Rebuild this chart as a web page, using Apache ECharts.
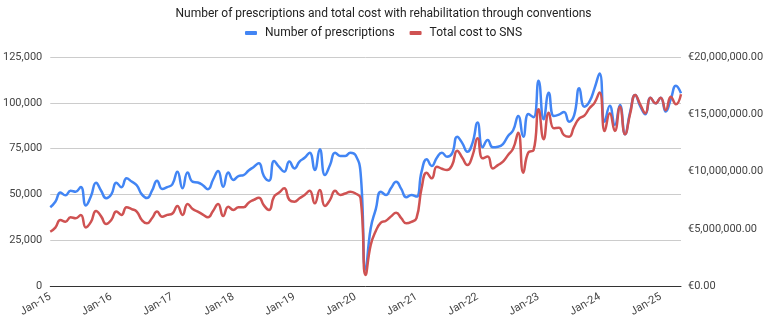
<!DOCTYPE html>
<html>
<head>
<meta charset="utf-8">
<script src="https://cdn.jsdelivr.net/npm/echarts@6/dist/echarts.min.js"></script>
<style>
  html, body { margin: 0; padding: 0; background: #fff; }
  #main { width: 767px; height: 320px; }
</style>
</head>
<body>
<div id="main"></div>
<script>
var startYear = 2015;
var monthCount = 125;
var monthNames = ['Jan', 'Feb', 'Mar', 'Apr', 'May', 'Jun', 'Jul', 'Aug', 'Sep', 'Oct', 'Nov', 'Dec'];

// number of prescriptions, in thousands
var prescriptions = [
  43, 46, 51, 49.5, 52, 51.5, 54, 44, 49, 56.4, 52, 47.9,
  50, 56.4, 53.9, 58.8, 57, 55, 50, 48, 52, 57.5, 53, 54,
  55.5, 62.4, 53.3, 61.9, 56.9, 56.5, 55, 52.8, 58, 62.8, 54.2, 61.9,
  57.9, 60, 60.5, 63, 65, 67, 60, 57.5, 68.2, 65, 62.4, 67.9,
  64.2, 67.9, 70, 72.8, 63.3, 74.6, 60.6, 66, 72.8, 71, 71, 72.8,
  71.5, 62, 9, 31.5, 42, 51.5, 49.7, 53.5, 56.9, 53, 48.4, 49.7,
  48.8, 62.4, 69.2, 65.5, 70, 72.8, 70.6, 72.4, 81.5, 78, 73.3, 78,
  89.2, 75.7, 79.7, 75.7, 76, 77.5, 81.9, 85, 92.8, 81.5, 93.9, 92.1,
  112, 91, 105.5, 92.8, 93.5, 95, 89.7, 93.3, 107.9, 97.9, 100.6, 107.9,
  116, 89.7, 98.4, 87.9, 98.8, 82.8, 95, 104.3, 98, 93.7, 102.8, 99.7,
  102.8, 95.2, 102, 109.3, 105.2
];

// total cost to SNS, in millions of euros
var totalCost = [
  4.74, 5.10, 5.76, 5.62, 6.00, 5.92, 6.21, 5.12, 5.60, 6.56, 6.08, 5.41,
  5.76, 6.50, 6.21, 6.88, 6.72, 6.50, 5.76, 5.47, 5.92, 6.50, 6.05, 6.21,
  6.32, 6.99, 6.21, 7.17, 6.72, 6.50, 6.24, 6.00, 6.56, 7.17, 6.11, 6.93,
  6.64, 6.88, 6.88, 7.28, 7.52, 7.71, 7.04, 6.64, 7.81, 8.16, 8.53, 7.52,
  7.36, 7.66, 7.95, 8.32, 7.22, 8.38, 6.99, 7.52, 8.32, 7.95, 8.08, 8.24,
  8.08, 7.68, 0.96, 3.58, 4.80, 5.54, 5.70, 6.08, 6.40, 5.92, 5.47, 5.60,
  5.92, 8.53, 9.90, 9.41, 10.42, 10.24, 10.13, 10.56, 11.82, 11.20, 10.56, 11.36,
  12.90, 11.15, 11.30, 10.27, 10.56, 10.86, 11.44, 12.00, 13.39, 9.90, 11.68, 11.84,
  15.44, 12.82, 15.14, 13.78, 13.82, 13.18, 13.04, 13.92, 14.64, 14.88, 15.52, 16.00,
  16.91, 13.54, 15.09, 13.54, 15.66, 13.25, 15.04, 16.69, 15.84, 15.09, 16.45, 15.95,
  16.45, 15.36, 16.53, 15.87, 16.75
];

var months = [];
for (var i = 0; i < monthCount; i++) {
  var y = startYear + Math.floor(i / 12);
  months.push(monthNames[i % 12] + '-' + String(y).slice(2));
}

var myChart = echarts.init(document.getElementById('main'));

var font = 'Roboto, Arial, sans-serif';

var option = {
  animation: false,
  title: {
    text: 'Number of prescriptions and total cost with rehabilitation through conventions',
    left: 'center',
    top: 3,
    textStyle: { fontSize: 12, fontWeight: 'normal', color: '#222', fontFamily: font }
  },
  legend: {
    top: 22,
    left: 'center',
    icon: 'roundRect',
    itemWidth: 12,
    itemHeight: 4,
    itemGap: 15,
    textStyle: { fontSize: 12, color: '#222', fontFamily: font, padding: [0, 0, 0, 3] },
    data: ['Number of prescriptions', 'Total cost to SNS']
  },
  grid: { left: 48, right: 86, top: 57, bottom: 34 },
  xAxis: {
    type: 'category',
    data: months,
    boundaryGap: false,
    axisLine: { lineStyle: { color: '#333', width: 1 } },
    axisTick: { show: false },
    axisLabel: {
      interval: function (index) { return index % 12 === 0; },
      rotate: 30,
      margin: 10,
      fontSize: 11,
      color: '#444',
      fontFamily: font
    }
  },
  yAxis: [
    {
      type: 'value',
      min: 0,
      max: 125000,
      interval: 25000,
      axisLine: { show: false },
      axisTick: { show: false },
      splitLine: { lineStyle: { color: '#ccc' } },
      axisLabel: {
        margin: 8,
        fontSize: 11,
        color: '#444',
        fontFamily: font,
        formatter: function (v) { return v.toLocaleString('en-US'); }
      }
    },
    {
      type: 'value',
      min: 0,
      max: 20000000,
      interval: 5000000,
      axisLine: { show: false },
      axisTick: { show: false },
      splitLine: { show: false },
      axisLabel: {
        margin: 7,
        fontSize: 11,
        color: '#444',
        fontFamily: font,
        formatter: function (v) {
          return '€' + v.toLocaleString('en-US', { minimumFractionDigits: 2, maximumFractionDigits: 2 });
        }
      }
    }
  ],
  series: [
    {
      name: 'Number of prescriptions',
      type: 'line',
      yAxisIndex: 0,
      smooth: 0.5,
      showSymbol: false,
      color: '#4285F4',
      lineStyle: { width: 2.5 },
      data: prescriptions.map(function (v) { return v * 1000; })
    },
    {
      name: 'Total cost to SNS',
      type: 'line',
      yAxisIndex: 1,
      smooth: 0.5,
      showSymbol: false,
      color: '#CF5252',
      lineStyle: { width: 2.5 },
      data: totalCost.map(function (v) { return v * 1000000; })
    }
  ]
};

myChart.setOption(option);
</script>
</body>
</html>
